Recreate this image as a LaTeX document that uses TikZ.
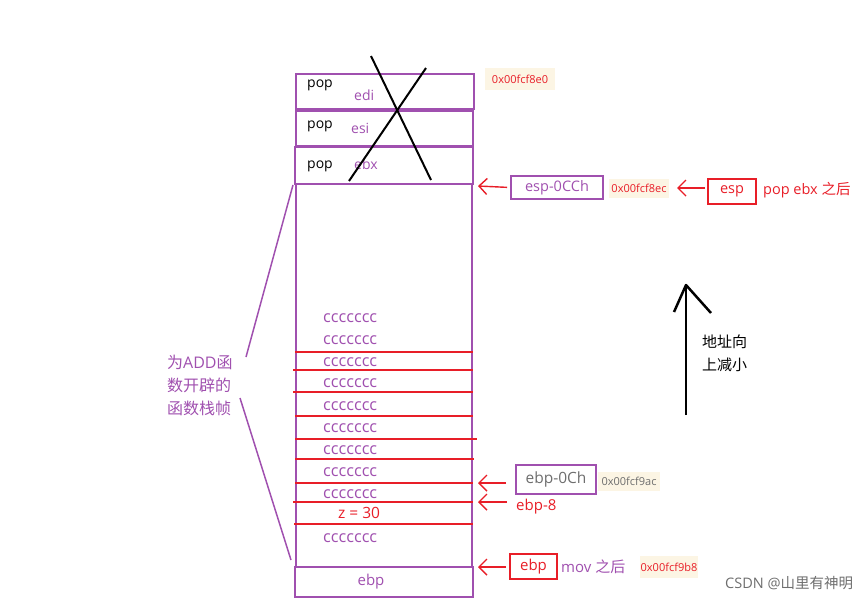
\documentclass[tikz,border=0pt]{standalone}
\usepackage{fontspec}
\setmainfont{Open Sans}
\newfontfamily\cjk{Noto Sans CJK SC}
\usetikzlibrary{arrows.meta}
\definecolor{pur}{RGB}{160,80,175}
\definecolor{rd}{RGB}{232,30,40}
\definecolor{beige}{RGB}{252,245,228}
\definecolor{gr}{RGB}{110,110,110}
\begin{document}
\begin{tikzpicture}[x=1pt,y=-1pt,
  cell/.style={draw=pur,line width=1.6pt,inner sep=0pt},
  lbl/.style={anchor=west,inner sep=0pt,font=\fontsize{14}{16}\selectfont},
  cc/.style={lbl,text=pur},
  cseq/.style={cc,font=\fontsize{16.2}{18}\selectfont},
  addr/.style={fill=beige,inner sep=0pt,font=\fontsize{11}{13}\selectfont},
  redl/.style={draw=rd,line width=1.4pt},
  arr/.style={draw=rd,line width=1.4pt,-{Straight Barb[length=8pt,width=16pt,line width=1.4pt]}},
  tag/.style={inner sep=0pt,line width=1.6pt,font=\fontsize{14.5}{16}\selectfont},
  cjkl/.style={lbl,font=\cjk\fontsize{16}{18}\selectfont}]
\useasboundingbox (0,0) rectangle (865,598);
% stack cells
\node[cell,minimum width=178pt,minimum height=35pt] (c1) at (385,91.5) {};
\node[cell,minimum width=177pt,minimum height=35pt] (c2) at (384.5,128.5) {};
\node[cell,minimum width=178pt,minimum height=37pt] (c3) at (384,165.5) {};
\node[cell,minimum width=176pt,minimum height=383pt] (frame) at (384,375.5) {};
\node[cell,minimum width=178pt,minimum height=30pt] (cb) at (384,582) {};
% red separators
\foreach \yy/\xa/\xb in {352/295/473,370/293/473,392/293/473,416/295/473,439/295/477,459/295/474,483/295/473,502/293/473,524/294/473}
  \draw[redl] (\xa,\yy) -- (\xb,\yy);
% texts in cells
\foreach \yy/\nm in {85/p1,126/p2,166/p3}
  \node[lbl] (\nm) at (307,\yy) {pop};
\node[cc] (t1) at (354,95) {edi};
\node[cc] (t2) at (351,128) {esi};
\node[cc] (t3) at (354,164) {ebx};
\foreach \yy in {318,340,362,383,406,428,450,472,494,538}
  \node[cseq] at (323,\yy) {ccccccc};
\node[lbl,text=rd,font=\fontsize{15.5}{17}\selectfont] (z) at (338,513) {z = 30};
\node[cc,anchor=center,font=\fontsize{15}{17}\selectfont] (ebpin) at (371,582) {ebp};
% cross
\draw[line width=2pt] (371,56) -- (431,180);
\draw[line width=2pt] (426,68) -- (349,181);
% addresses
\node[addr,minimum width=70pt,minimum height=22pt,text=rd] (a1) at (520,79) {0x00fcf8e0};
\node[addr,minimum width=60pt,minimum height=19pt,text=rd] (a2) at (639,188) {0x00fcf8ec};
\node[addr,minimum width=62pt,minimum height=19pt,text=gr] (a3) at (629,481) {0x00fcf9ac};
\node[addr,minimum width=58pt,minimum height=22pt,text=rd] (a4) at (669,567) {0x00fcf9b8};
% tag boxes
\node[tag,draw=pur,text=pur,minimum width=92pt,minimum height=23pt] (espc) at (557,187.5) {esp-0CCh};
\node[tag,draw=rd,text=rd,minimum width=48pt,minimum height=25pt] (esp) at (732,191.5) {esp};
\node[lbl,text=rd,font=\fontsize{14.5}{16}\selectfont] (popebx) at (763,190) {pop ebx {\cjk 之后}};
\node[tag,draw=pur,text=gr,minimum width=80pt,minimum height=29pt,font=\fontsize{15.5}{17}\selectfont] (ebp0c) at (556,479.5) {ebp-0Ch};
\node[lbl,text=rd,font=\fontsize{15}{17}\selectfont] (ebp8) at (516,507) {ebp-8};
\node[tag,draw=rd,text=rd,minimum width=47pt,minimum height=25pt,font=\fontsize{15}{17}\selectfont] (ebpb) at (533.5,566.5) {ebp};
\node[lbl,text=pur,font=\fontsize{15}{17}\selectfont] (mov) at (561,567) {mov {\cjk 之后}};
% arrow targets
\coordinate (g1) at (478,186);
\coordinate (g2) at (677,188);
\coordinate (g3) at (478,483);
\coordinate (g4) at (478,502);
\coordinate (g5) at (478,567);
\draw[arr,shorten <=3pt] (espc.west) -- (g1);
\draw[arr,shorten <=2pt] (esp.west |- g2) -- (g2);
\draw[arr,shorten <=9pt] (ebp0c.west |- g3) -- (g3);
\draw[arr,shorten <=9pt] (ebp8.west |- g4) -- (g4);
\draw[arr,shorten <=3pt] (ebpb.west |- g5) -- (g5);
% left brace lines and label
\draw[pur,line width=1.5pt] (293,185) -- (246,357);
\draw[pur,line width=1.5pt] (240,398) -- (291,560);
\node[lbl,text=pur,font=\fontsize{16}{18}\selectfont] at (167,362) {{\cjk 为}ADD{\cjk 函}};
\node[cjkl,text=pur] at (167,385) {数开辟的};
\node[cjkl,text=pur] at (167,408) {函数栈帧};
% direction arrow
\coordinate (up0) at (686,415);
\coordinate (up1) at (686,285);
\draw[line width=2.5pt] (up0) -- (up1);
\draw[line width=2.5pt,line join=round] (674,312) -- (up1) -- (711,313);
\node[lbl,font=\cjk\fontsize{15}{17}\selectfont] at (702,342) {地址向};
\node[lbl,font=\cjk\fontsize{15}{17}\selectfont] at (702,365) {上减小};
% watermark
\node[lbl,text=gr,font=\fontsize{14.5}{16}\selectfont] at (725,583) {CSDN @{\cjk 山里有神明}};
\end{tikzpicture}
\end{document}
